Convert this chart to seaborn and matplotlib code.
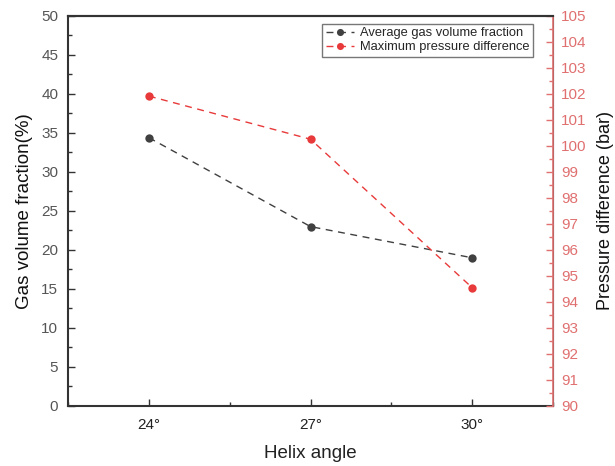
import matplotlib
matplotlib.use("Agg")
import matplotlib.pyplot as plt
import seaborn as sns
import pandas as pd
from matplotlib.ticker import MultipleLocator

angles = ["24°", "27°", "30°"]
gas_fraction = [34.4, 23.0, 19.0]
pressure_diff = [101.92, 100.26, 94.55]

sns.set_style("ticks")
plt.rcParams["font.family"] = ["Liberation Sans", "DejaVu Sans"]

df = pd.DataFrame({"angle": angles, "gas": gas_fraction, "pres": pressure_diff})
df["x"] = range(len(angles))

fig = plt.figure(figsize=(6.15, 4.66), dpi=100)
ax = fig.add_axes([0.1106, 0.1288, 0.7886, 0.8369])
ax2 = ax.twinx()

black = "#404040"
red = "#e83a3a"

sns.lineplot(data=df, x="x", y="gas", ax=ax, color=black, linestyle=(0, (5, 4)),
             marker="o", markersize=6, markeredgewidth=0, linewidth=1.0,
             label="Average gas volume fraction", legend=False)
sns.lineplot(data=df, x="x", y="pres", ax=ax2, color=red, linestyle=(0, (5, 4)),
             marker="o", markersize=6, markeredgewidth=0, linewidth=1.0,
             label="Maximum pressure difference", legend=False)

ax.set_xlim(-0.5, 2.5)
ax.set_ylim(0, 50)
ax2.set_ylim(90, 105)
ax.set_xticks(range(len(angles)))
ax.set_xticklabels(angles)
ax.xaxis.set_minor_locator(MultipleLocator(0.5))
ax.yaxis.set_major_locator(MultipleLocator(5))
ax.yaxis.set_minor_locator(MultipleLocator(2.5))
ax2.yaxis.set_major_locator(MultipleLocator(1))
ax2.yaxis.set_minor_locator(MultipleLocator(0.5))

ax.tick_params(axis="both", which="major", direction="in", length=5, width=1, colors="#333333", labelsize=11)
ax.tick_params(axis="both", which="minor", direction="in", length=3, width=1, colors="#333333")
ax.tick_params(axis="y", which="major", labelcolor="#555555", pad=7)
ax.tick_params(axis="x", which="major", labelcolor="#222222", pad=9)
ax.tick_params(axis="x", top=False, which="both")
ax2.tick_params(axis="y", which="major", direction="in", length=5, width=1, colors="#e07070", labelsize=11, pad=6)
ax2.tick_params(axis="y", which="minor", direction="in", length=3, width=1, colors="#e07070")

for s in ["left", "bottom", "top"]:
    ax.spines[s].set_color("#333333")
    ax.spines[s].set_linewidth(1.5)
ax2.spines["right"].set_color("#e07070")
ax2.spines["right"].set_linewidth(1.2)
ax2.spines["top"].set_color("#333333")
ax2.spines["top"].set_linewidth(1.5)
ax2.spines["left"].set_visible(False)
ax2.spines["bottom"].set_visible(False)

ax.set_xlabel("Helix angle", fontsize=13.5, color="#222222", labelpad=9)
ax.set_ylabel("Gas volume fraction(%)", fontsize=13.5, color="#111111", labelpad=6)
ax2.set_ylabel("Pressure difference (bar)", fontsize=13, color="#111111", labelpad=7)

h1, l1 = ax.get_legend_handles_labels()
h2, l2 = ax2.get_legend_handles_labels()
leg = ax2.legend(h1 + h2, l1 + l2, loc="upper right", bbox_to_anchor=(0.959, 0.979),
                 fontsize=9.3, frameon=True, fancybox=False, handlelength=2.2,
                 borderpad=0.25, labelspacing=0.15, handletextpad=0.5, borderaxespad=0,
                 markerscale=0.85)
leg.get_frame().set_edgecolor("#555555")
leg.get_frame().set_linewidth(1.0)

fig.savefig("out.png", dpi=100)
